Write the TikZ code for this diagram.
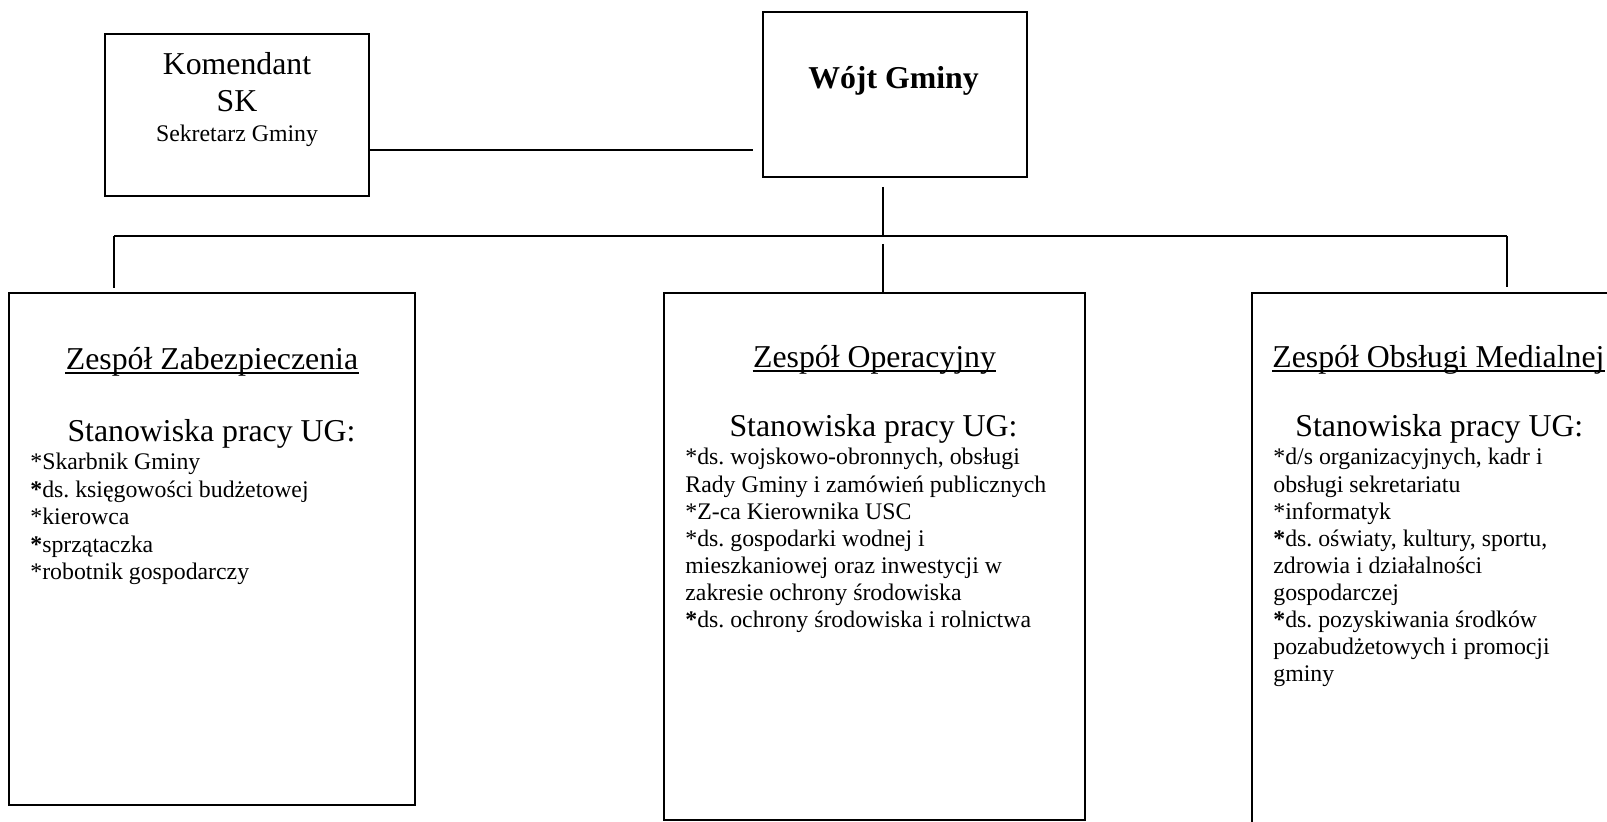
\documentclass[tikz,border=0pt]{standalone}
\usepackage{fontspec}
\setmainfont{Liberation Serif}
\usetikzlibrary{fit}
\frenchspacing
\tikzset{
  box/.style={draw, line width=1pt, inner sep=0pt},
  conn/.style={line width=1pt},
  uline/.style={line width=0.75pt},
  bigtxt/.style={inner sep=0pt, font=\fontsize{15.9}{18}\selectfont},
  boldtxt/.style={inner sep=0pt, font=\fontsize{15.9}{18}\selectfont\bfseries},
  smalltxt/.style={inner sep=0pt, font=\fontsize{11.9}{13.7}\selectfont},
}
\begin{document}
\begin{tikzpicture}[x=0.5pt, y=-0.5pt]
\clip (0,0) rectangle (1607,822);
% boxes
\node[box, fit={(105,34) (369,196)}] (kom) {};
\node[box, fit={(763,12) (1027,177)}] (wojt) {};
\node[box, fit={(9,293) (415,805)}] (zz) {};
\node[box, fit={(664,293) (1085,820)}] (zo) {};
\node[box, fit={(1252,293) (1620,840)}] (zm) {};
% top texts
\node[bigtxt, anchor=base] (t1) at (237,75) {Komendant};
\node[bigtxt, anchor=base] (t2) at (237,112) {SK};
\node[smalltxt, anchor=base] (t3) at (237,142) {Sekretarz Gminy};
\node[boldtxt, anchor=base] (t4) at (893.5,89) {Wójt Gminy};
% connectors
\coordinate (c1) at (753,150);
\coordinate (w1) at (883,187);
\coordinate (bm) at (883,236);
\coordinate (bl) at (114,236);
\coordinate (br) at (1507,236);
\coordinate (dl) at (114,288);
\coordinate (dr) at (1507,287);
\coordinate (cm) at (883,244);
\draw[conn] (kom.east |- c1) -- (c1);
\draw[conn] (w1) -- (bm);
\draw[conn] (bl) -- (br);
\draw[conn] (bl) -- (dl);
\draw[conn] (br) -- (dr);
\draw[conn] (cm) -- (cm |- zo.north);
% headers
\node[bigtxt, anchor=base] (hz) at (212,370) {Zespół Zabezpieczenia};
\node[bigtxt, anchor=base] (ho) at (874.5,368) {Zespół Operacyjny};
\node[bigtxt, anchor=base west] (hm) at (1272,368) {Zespół Obsługi Medialnej};
\foreach \h in {hz,ho,hm}
  \draw[uline] ([yshift=-1.4pt]\h.base west) -- ([yshift=-1.4pt]\h.base east);
\node[bigtxt, anchor=base] (sz) at (211.5,442) {Stanowiska pracy UG:};
\node[bigtxt, anchor=base] (so) at (873.5,437) {Stanowiska pracy UG:};
\node[bigtxt, anchor=base west] (sm) at (1295,437) {Stanowiska pracy UG:};
% lists
\foreach \t [count=\i] in {{*Skarbnik Gminy},{\textbf{*}ds. księgowości budżetowej},{*kierowca},{\textbf{*}sprzątaczka},{*robotnik gospodarczy}}
  \node[smalltxt, anchor=base west] (lz\i) at (30,{470+(\i-1)*27.5}) {\t};
\foreach \t [count=\i] in {{*ds. wojskowo-obronnych, obsługi},{Rady Gminy i zamówień publicznych},{*Z-ca Kierownika USC},{*ds. gospodarki wodnej i},{mieszkaniowej oraz inwestycji w},{zakresie ochrony środowiska},{\textbf{*}ds. ochrony środowiska i rolnictwa}}
  \node[smalltxt, anchor=base west] (lo\i) at (685,{465+(\i-1)*27.1}) {\t};
\foreach \t [count=\i] in {{*d/s organizacyjnych, kadr i},{obsługi sekretariatu},{*informatyk},{\textbf{*}ds. oświaty, kultury, sportu,},{zdrowia i działalności},{gospodarczej},{\textbf{*}ds. pozyskiwania środków},{pozabudżetowych i promocji},{gminy}}
  \node[smalltxt, anchor=base west] (lm\i) at (1273,{465+(\i-1)*27.1}) {\t};
\end{tikzpicture}
\end{document}
